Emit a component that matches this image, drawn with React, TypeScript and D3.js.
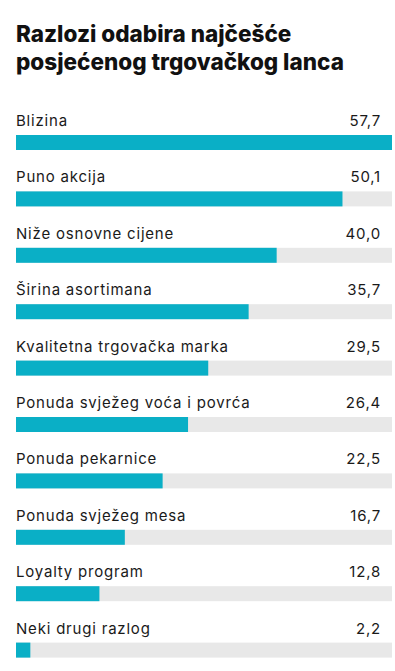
import React from "react";
import * as d3 from "d3";

const title = ["Razlozi odabira najčešće", "posjećenog trgovačkog lanca"];
const reasons = [
  "Blizina",
  "Puno akcija",
  "Niže osnovne cijene",
  "Širina asortimana",
  "Kvalitetna trgovačka marka",
  "Ponuda svježeg voća i povrća",
  "Ponuda pekarnice",
  "Ponuda svježeg mesa",
  "Loyalty program",
  "Neki drugi razlog",
];
const shares = [57.7, 50.1, 40.0, 35.7, 29.5, 26.4, 22.5, 16.7, 12.8, 2.2];

const W = 395;
const H = 671;
const left = 16;
const right = 392;

const App = () => {
  const x = d3.scaleLinear().domain([0, d3.max(shares)!]).range([left, right]);
  const y = d3
    .scaleBand<number>()
    .domain(d3.range(reasons.length))
    .range([100, 664])
    .paddingInner(0);
  const barH = 15;
  const fmt = (v: number) => v.toFixed(1).replace(".", ",");

  return (
    <svg
      width={W}
      height={H}
      style={{ position: "absolute", left: 0, top: 0, background: "#fff" }}
    >
      {title.map((t, i) => (
        <text
          key={i}
          x={left}
          y={42 + i * 27.5}
          fontFamily="Inter, sans-serif"
          fontWeight={800}
          fontSize={22.5}
          fill="#111"
        >
          {t}
        </text>
      ))}
      {reasons.map((r, i) => {
        const barTop = y(i)! + 35;
        return (
          <g key={r}>
            <text
              x={left}
              y={barTop - 9}
              fontFamily="Inter, sans-serif"
              fontSize={15}
              letterSpacing={0.8}
              fill="#1a1a1a"
            >
              {r}
            </text>
            <text
              x={381}
              y={barTop - 9}
              textAnchor="end"
              fontFamily="Inter, sans-serif"
              fontSize={15}
              letterSpacing={0.8}
              fill="#1a1a1a"
            >
              {fmt(shares[i])}
            </text>
            <rect x={left} y={barTop} width={right - left} height={barH} fill="#e8e8e8" />
            <rect
              x={left}
              y={barTop}
              width={x(shares[i]) - left}
              height={barH}
              fill="#0aafc6"
            />
          </g>
        );
      })}
    </svg>
  );
};

export default App;
